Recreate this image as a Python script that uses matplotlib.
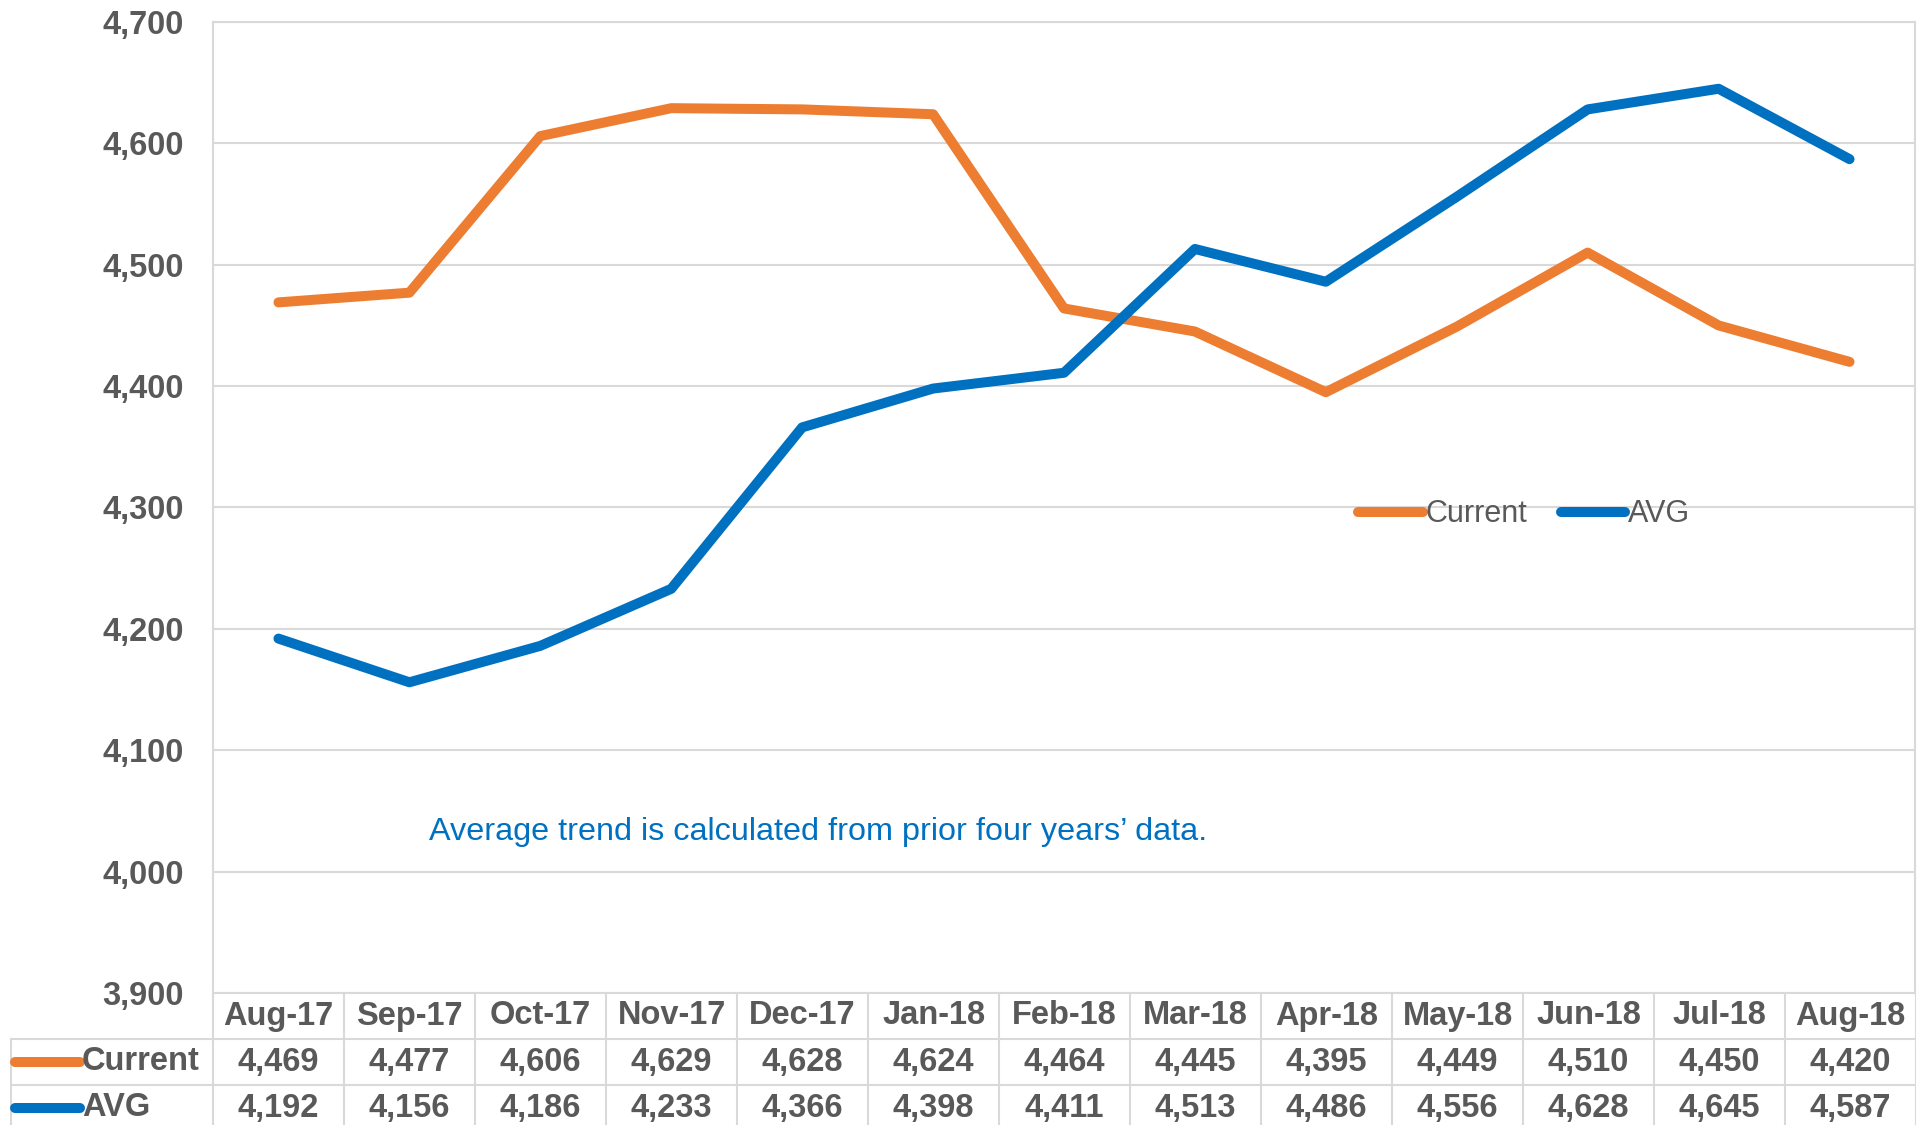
import matplotlib
matplotlib.use('Agg')
import matplotlib.pyplot as plt
from matplotlib.lines import Line2D

plt.rcParams['font.family'] = ['Liberation Sans', 'DejaVu Sans']

months = ['Aug-17', 'Sep-17', 'Oct-17', 'Nov-17', 'Dec-17', 'Jan-18', 'Feb-18',
          'Mar-18', 'Apr-18', 'May-18', 'Jun-18', 'Jul-18', 'Aug-18']
current = [4469, 4477, 4606, 4629, 4628, 4624, 4464, 4445, 4395, 4449, 4510, 4450, 4420]
avg = [4192, 4156, 4186, 4233, 4366, 4398, 4411, 4513, 4486, 4556, 4628, 4645, 4587]
yticks = [3900, 4000, 4100, 4200, 4300, 4400, 4500, 4600, 4700]

orange = '#ED7D31'
blue = '#0070C0'
gray = '#595959'
grid = '#D9D9D9'
fs = 22
fsb = 23.5

W, H = 1928, 1125
fig = plt.figure(figsize=(W / 100, H / 100), dpi=100)

# main plot area
ax = fig.add_axes([213 / W, (H - 993) / H, 1702 / W, 971 / H])
x = list(range(len(months)))
ax.plot(x, current, color=orange, lw=7.2, solid_capstyle='round', solid_joinstyle='round', label='Current', zorder=3)
ax.plot(x, avg, color=blue, lw=7.2, solid_capstyle='round', solid_joinstyle='round', label='AVG', zorder=3)
ax.set_xlim(-0.5, 12.5)
ax.set_ylim(3900, 4700)
ax.set_yticks(yticks)
ax.set_yticklabels([f'{v:,}' for v in yticks], fontsize=fsb, fontweight='bold', color=gray)
ax.tick_params(axis='y', length=0, pad=21)
ax.set_xticks([])
ax.grid(axis='y', color=grid, lw=1.5, zorder=0)
for s in ax.spines.values():
    s.set_color(grid)
    s.set_linewidth(1.5)

ax.legend(loc='center left', bbox_to_anchor=(0.673, 0.493), ncol=2, frameon=False,
          fontsize=fs, labelcolor=gray, borderpad=0, borderaxespad=0,
          handlelength=2.1, handletextpad=0.1, columnspacing=1.1)

ax.text(1.15, 4033, 'Average trend is calculated from prior four years\u2019 data.',
        color=blue, fontsize=23.3, va='center', ha='left')

# data table below
left_px = 10
x0 = -0.5 - (213 - left_px) / 130.9
tab = fig.add_axes([left_px / W, 0, (1916 - left_px) / W, 132 / H])
tab.set_xlim(x0, 12.5)
tab.set_ylim(132 / 46, 0)
tab.axis('off')

for k in range(14):
    tab.plot([k - 0.5, k - 0.5], [0, 3], color=grid, lw=1.5, clip_on=True)
tab.plot([x0 + 0.004, x0 + 0.004], [1, 3], color=grid, lw=1.5)
for r in [1, 2]:
    tab.plot([x0, 12.5], [r, r], color=grid, lw=1.5)

for i, m in enumerate(months):
    tab.text(i, 0.5, m, ha='center', va='center', fontsize=fsb, fontweight='bold', color=gray)
    tab.text(i, 1.5, f'{current[i]:,}', ha='center', va='center', fontsize=fsb, fontweight='bold', color=gray)
    tab.text(i, 2.5, f'{avg[i]:,}', ha='center', va='center', fontsize=fsb, fontweight='bold', color=gray)

key_a = x0 + 5 / 130.9
key_b = x0 + 70 / 130.9
for r, name, c in [(1.5, 'Current', orange), (2.5, 'AVG', blue)]:
    tab.add_line(Line2D([key_a, key_b], [r, r], color=c, lw=7.2, solid_capstyle='round'))
    tab.text(key_b + 2 / 130.9, r, name, ha='left', va='center', fontsize=fsb, fontweight='bold', color=gray)

fig.savefig('out.png', dpi=100)
